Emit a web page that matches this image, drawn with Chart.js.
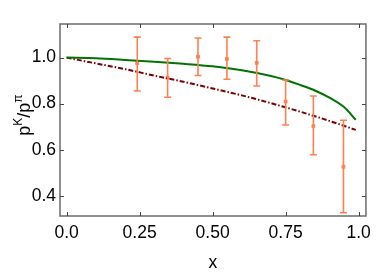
<!DOCTYPE html>
<html>
<head>
<meta charset="utf-8">
<script src="https://cdn.jsdelivr.net/npm/chart.js@4.4.0/dist/chart.umd.min.js"></script>
<style>
  html, body { margin: 0; padding: 0; background: #fff; }
  #wrap { width: 378px; height: 272px; }
</style>
</head>
<body>
<div id="wrap"><canvas id="c"></canvas></div>
<script>
// measured points with error bars
const ptX = [0.242, 0.346, 0.450, 0.549, 0.651, 0.750, 0.845, 0.948];
const ptY = [0.976, 0.913, 1.004, 0.994, 0.977, 0.809, 0.702, 0.526];
const errHi = [1.089, 0.996, 1.085, 1.089, 1.073, 0.903, 0.833, 0.728];
const errLo = [0.855, 0.828, 0.922, 0.906, 0.877, 0.707, 0.578, 0.326];

// green curve
const greenX = [0, 0.1, 0.2, 0.3, 0.4, 0.5, 0.6, 0.7, 0.75, 0.8, 0.85, 0.9, 0.95, 0.99];
const greenY = [1.0, 0.997, 0.99, 0.982, 0.973, 0.962, 0.945, 0.92, 0.903, 0.881, 0.857, 0.826, 0.785, 0.73];

// dark red dash-dot curve
const redX = [0, 0.1, 0.2, 0.3, 0.4, 0.5, 0.6, 0.7, 0.8, 0.9, 0.99];
const redY = [1.0, 0.975, 0.95, 0.922, 0.895, 0.866, 0.836, 0.802, 0.765, 0.725, 0.686];

const xTicks = [0, 0.25, 0.5, 0.75, 1.0];
const xTickLabels = ['0.0', '0.25', '0.50', '0.75', '1.0'];
const yTicks = [0.4, 0.6, 0.8, 1.0];
const yTickLabels = ['0.4', '0.6', '0.8', '1.0'];

const FONT = 'Liberation Sans, Arial, sans-serif';
const frameColor = '#6a6a6a';
const errColor = 'rgb(255, 128, 80)';

function pairs(xs, ys) {
    return xs.map((x, i) => ({ x: x, y: ys[i] }));
}

// frame with inward ticks on every side, plus error bars
const framePlugin = {
    id: 'frame',
    afterDatasetsDraw(chart) {
        const ctx = chart.ctx;
        const a = chart.chartArea;
        const xs = chart.scales.x, ys = chart.scales.y;

        // error bars
        ctx.save();
        ctx.strokeStyle = errColor;
        ctx.lineWidth = 1.6;
        ptX.forEach((x, i) => {
            const px = xs.getPixelForValue(x);
            const top = ys.getPixelForValue(errHi[i]);
            const bot = ys.getPixelForValue(errLo[i]);
            ctx.beginPath();
            ctx.moveTo(px, top); ctx.lineTo(px, bot);
            ctx.moveTo(px - 3.5, top); ctx.lineTo(px + 3.5, top);
            ctx.moveTo(px - 3.5, bot); ctx.lineTo(px + 3.5, bot);
            ctx.stroke();
        });
        ctx.restore();

        ctx.save();
        ctx.strokeStyle = frameColor;
        ctx.lineWidth = 1.5;
        ctx.strokeRect(a.left, a.top, a.right - a.left, a.bottom - a.top);
        ctx.lineWidth = 1;
        ctx.strokeStyle = '#444';
        ctx.beginPath();
        xTicks.forEach(v => {
            const px = Math.round(xs.getPixelForValue(v)) + 0.5;
            ctx.moveTo(px, a.bottom); ctx.lineTo(px, a.bottom - 4);
            ctx.moveTo(px, a.top); ctx.lineTo(px, a.top + 4);
        });
        yTicks.forEach(v => {
            const py = Math.round(ys.getPixelForValue(v)) + 0.5;
            ctx.moveTo(a.left, py); ctx.lineTo(a.left + 4, py);
            ctx.moveTo(a.right, py); ctx.lineTo(a.right - 4, py);
        });
        ctx.stroke();
        ctx.restore();
    },
    afterDraw(chart) {
        // y axis title p^K / p^pi, rotated
        const ctx = chart.ctx;
        const cy = 115, cx = 24;
        ctx.save();
        ctx.translate(cx, cy);
        ctx.rotate(-Math.PI / 2);
        ctx.fillStyle = '#000';
        ctx.textBaseline = 'alphabetic';
        const big = '18px ' + FONT, small = '12px ' + FONT;
        const parts = [
            { t: 'p', f: big, dy: 0 },
            { t: 'K', f: small, dy: -8 },
            { t: '/', f: big, dy: 0 },
            { t: 'p', f: big, dy: 0 },
            { t: 'π', f: small, dy: -8 }
        ];
        let w = 0;
        parts.forEach(p => { ctx.font = p.f; w += ctx.measureText(p.t).width; });
        let x = -w / 2;
        parts.forEach(p => {
            ctx.font = p.f;
            ctx.fillText(p.t, x, 6 + p.dy);
            x += ctx.measureText(p.t).width;
        });
        ctx.restore();
    }
};

new Chart(document.getElementById('c'), {
    type: 'scatter',
    data: {
        datasets: [{
            type: 'line',
            label: 'green',
            data: pairs(greenX, greenY),
            borderColor: 'rgb(0, 115, 0)',
            borderWidth: 2,
            pointRadius: 0,
            cubicInterpolationMode: 'monotone',
            fill: false
        }, {
            type: 'line',
            label: 'red',
            data: pairs(redX, redY),
            borderColor: 'rgb(120, 0, 0)',
            borderWidth: 2,
            borderDash: [5, 2, 1.5, 2],
            pointRadius: 0,
            cubicInterpolationMode: 'monotone',
            fill: false
        }, {
            label: 'data',
            data: pairs(ptX, ptY),
            backgroundColor: errColor,
            borderColor: errColor,
            pointRadius: 2,
            pointStyle: 'rect'
        }]
    },
    options: {
        responsive: true,
        maintainAspectRatio: false,
        animation: false,
        events: [],
        layout: { padding: { left: 0, right: 8, top: 24, bottom: 0 } },
        plugins: { legend: { display: false }, tooltip: { enabled: false } },
        scales: {
            x: {
                type: 'linear',
                min: -0.0225,
                max: 1.025,
                afterBuildTicks(s) { s.ticks = xTicks.map(v => ({ value: v })); },
                afterFit(s) { s.height = 56; },
                grid: { display: false, drawTicks: false },
                border: { display: false },
                ticks: {
                    padding: 7,
                    color: '#000',
                    font: { family: FONT, size: 17.5 },
                    callback: (v) => xTickLabels[xTicks.indexOf(v)]
                },
                title: {
                    display: true,
                    text: 'x',
                    color: '#000',
                    font: { family: FONT, size: 17.5 },
                    padding: { top: 0, bottom: -2 }
                }
            },
            y: {
                type: 'linear',
                min: 0.312,
                max: 1.146,
                afterBuildTicks(s) { s.ticks = yTicks.map(v => ({ value: v })); },
                afterFit(s) { s.width = 60; },
                grid: { display: false, drawTicks: false },
                border: { display: false },
                ticks: {
                    padding: 4,
                    color: '#000',
                    font: { family: FONT, size: 17.5 },
                    callback: (v) => yTickLabels[yTicks.indexOf(v)]
                }
            }
        }
    },
    plugins: [framePlugin]
});
</script>
</body>
</html>
